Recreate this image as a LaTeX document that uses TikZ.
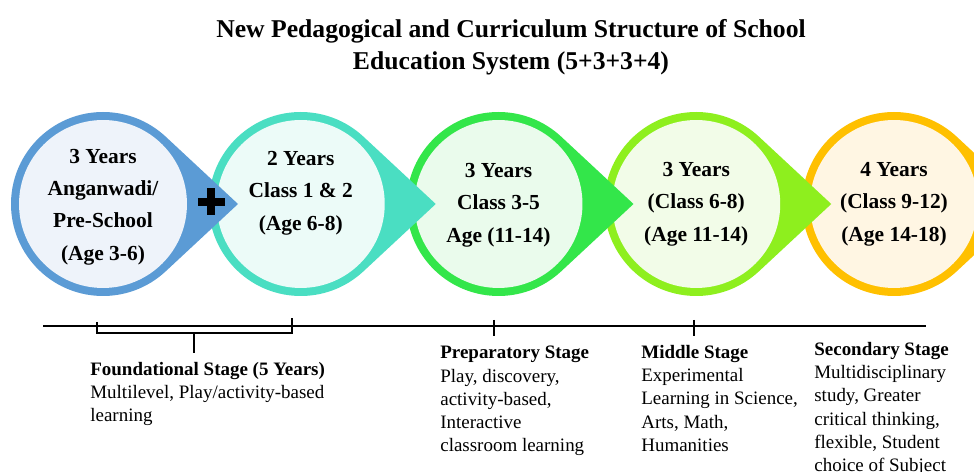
\documentclass[tikz,border=0pt]{standalone}
\usepackage{fontspec}
\setmainfont{Liberation Serif}
\usetikzlibrary{positioning}

\definecolor{ringA}{HTML}{5B9BD5}
\definecolor{discA}{HTML}{EEF3FA}
\definecolor{ringB}{HTML}{4ADEC2}
\definecolor{discB}{HTML}{ECFBF8}
\definecolor{ringC}{HTML}{33E64A}
\definecolor{discC}{HTML}{EAFBEC}
\definecolor{ringD}{HTML}{8EEF1E}
\definecolor{discD}{HTML}{F2FCE8}
\definecolor{ringE}{HTML}{FFC000}
\definecolor{discE}{HTML}{FFF6E3}

\begin{document}
\begin{tikzpicture}[x=0.02cm,y=-0.02cm,
    disc/.style={circle,minimum size=3.36cm,inner sep=0pt},
    years/.style={align=center,inner sep=0pt,font=\fontsize{12.2}{18.4}\selectfont\bfseries},
    stagetext/.style={anchor=north west,align=left,inner sep=0pt,font=\fontsize{10.8}{13.2}\selectfont},
    timeline/.style={line width=1.4pt},
    bracket/.style={line width=0.7pt}]
\path[use as bounding box,clip] (0,0) rectangle (974,472);

\node[align=center,font=\fontsize{14.6}{18.2}\selectfont\bfseries] (title) at (511,47)
    {New Pedagogical and Curriculum Structure of School\\Education System (5+3+3+4)};

% drops drawn right to left, each tip lies over the next circle
\fill[ringE] (894,204) ++(47:92) arc[start angle=47,end angle=313,radius=92] -- (1029,204) -- cycle;
\node[disc,fill=discE] (d5) at (894,204) {};
\fill[ringD] (696.25,204) ++(47:92) arc[start angle=47,end angle=313,radius=92] -- (831.25,204) -- cycle;
\node[disc,fill=discD] (d4) at (696.25,204) {};
\fill[ringC] (498.5,204) ++(47:92) arc[start angle=47,end angle=313,radius=92] -- (633.5,204) -- cycle;
\node[disc,fill=discC] (d3) at (498.5,204) {};
\fill[ringB] (300.75,204) ++(47:92) arc[start angle=47,end angle=313,radius=92] -- (435.75,204) -- cycle;
\node[disc,fill=discB] (d2) at (300.75,204) {};
\fill[ringA] (103,204) ++(47:92) arc[start angle=47,end angle=313,radius=92] -- (238,204) -- cycle;
\node[disc,fill=discA] (d1) at (103,204) {};

% plus sign
\fill (197.5,198) rectangle (224.5,206);
\fill (207,188.5) rectangle (215,215.5);

\node[years] (y1) at ([yshift=-0.06cm]d1.center) {3 Years\\Anganwadi/\\Pre-School\\(Age 3-6)};
\node[years] (y2) at ([yshift=0.22cm]d2.center) {2 Years\\Class 1 \& 2\\(Age 6-8)};
\node[years] (y3) at ([yshift=-0.02cm]d3.center) {3 Years\\Class 3-5\\Age (11-14)};
\node[years] (y4) at (d4) {3 Years\\(Class 6-8)\\(Age 11-14)};
\node[years] (y5) at (d5) {4 Years\\(Class 9-12)\\(Age 14-18)};

% time line with stage marks
\coordinate (tl0) at (43,326);
\coordinate (tl1) at (926,326);
\draw[timeline] (tl0) -- (tl1);
\coordinate (b0) at (97,322);
\coordinate (b1) at (292,318);
\coordinate (bs) at (194,333);
\coordinate (be) at (194,353);
\draw[bracket] (b0) |- (bs) -| (b1);
\draw[bracket] (bs) -- (be);
\coordinate (m3) at (494,320);
\coordinate (m4) at (694,320);
\draw[bracket] (m3) -- ++(0,16);
\draw[bracket] (m4) -- ++(0,16);

\node[stagetext] (found) at (90,362) {\textbf{Foundational Stage (5 Years)}\\Multilevel, Play/activity-based\\learning};
\node[stagetext] (prep) at (440,346) {\textbf{Preparatory Stage}\\Play, discovery,\\activity-based,\\Interactive\\classroom learning};
\node[stagetext] (mid) at (641,345) {\textbf{Middle Stage}\\Experimental\\Learning in Science,\\Arts, Math,\\Humanities};
\node[stagetext] (sec) at (814,342) {\textbf{Secondary Stage}\\Multidisciplinary\\study, Greater\\critical thinking,\\flexible, Student\\choice of Subject};
\end{tikzpicture}
\end{document}
